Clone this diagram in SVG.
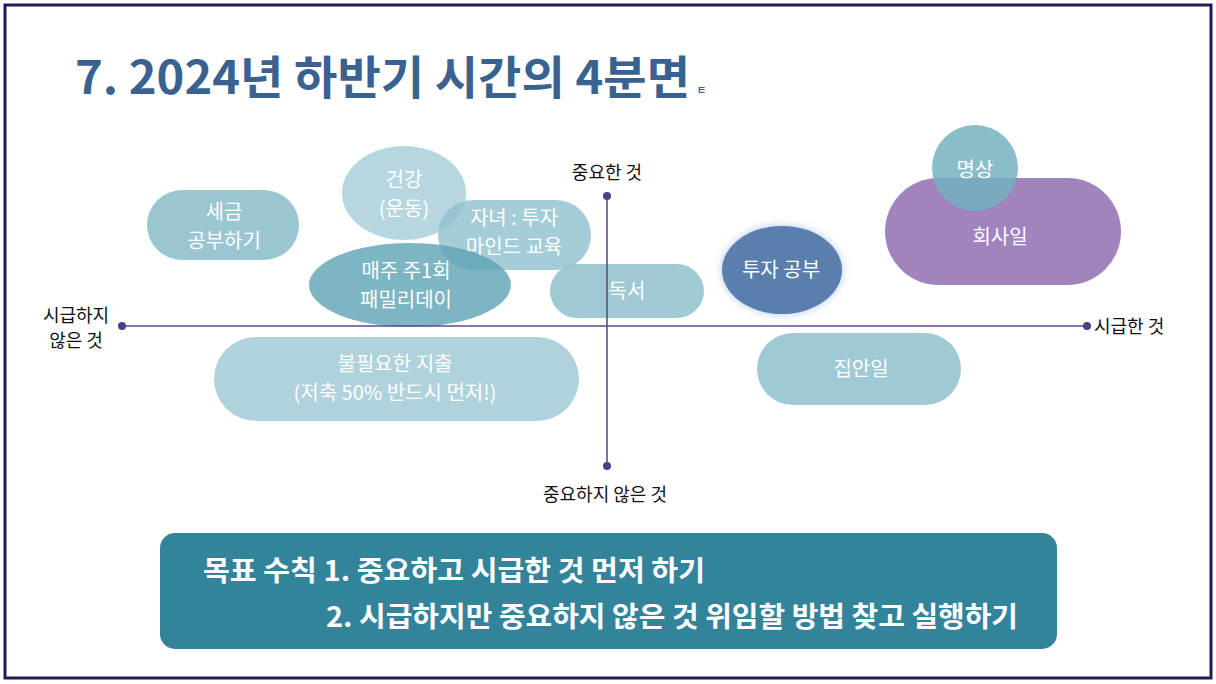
<svg xmlns="http://www.w3.org/2000/svg" width="1216" height="684" viewBox="0 0 1216 684">
<defs>
<style>
.t{font-family:"Noto Sans CJK KR","Noto Sans",sans-serif;}
.nt{font-family:"Noto Sans CJK KR","Noto Sans",sans-serif;font-size:20px;fill:#ffffff;text-anchor:middle;}
.ax{font-family:"Noto Sans CJK KR","Noto Sans",sans-serif;font-size:18px;fill:#111111;}
.axis{stroke:#5c4a8e;stroke-width:1.6;fill:none;}
.dot{fill:#4c3f85;}
</style>
<filter id="glow" x="-30%" y="-30%" width="160%" height="160%">
<feGaussianBlur in="SourceAlpha" stdDeviation="5"/>
<feFlood flood-color="#7fa3d6" flood-opacity="0.6"/>
<feComposite operator="in" in2="SourceAlpha"/>
<feGaussianBlur stdDeviation="4"/>
<feMerge><feMergeNode/><feMergeNode in="SourceGraphic"/></feMerge>
</filter>
</defs>
<rect x="0" y="0" width="1216" height="684" fill="#ffffff"/>
<rect x="5" y="5" width="1206" height="673" fill="#ffffff" stroke="#2a1850" stroke-width="3"/>

<g id="title">
<text class="t" x="75" y="94" font-size="46" font-weight="700" fill="#3a6291" textLength="615" lengthAdjust="spacingAndGlyphs">7. 2024년 하반기 시간의 4분면</text>
<text class="t" x="697" y="94" font-size="10" font-weight="700" fill="#3a6291">ㅌ</text>
</g>

<g id="node-segeum">
<rect x="147" y="190" width="152" height="70" rx="35" fill="#8fc0cd" fill-opacity="0.9"/>
<text class="nt" x="224" y="219">세금</text>
<text class="nt" x="224" y="248">공부하기</text>
</g>
<g id="node-geongang">
<ellipse cx="404" cy="193" rx="62" ry="47" fill="#a9d0da" fill-opacity="0.85"/>
<text class="nt" x="404" y="187">건강</text>
<text class="nt" x="404" y="216">(운동)</text>
</g>
<g id="node-janyeo">
<rect x="438" y="200" width="153" height="70" rx="35" fill="#8fc0cd" fill-opacity="0.8"/>
<text class="nt" x="514" y="225">자녀 : 투자</text>
<text class="nt" x="514" y="254">마인드 교육</text>
</g>
<g id="node-family">
<ellipse cx="410" cy="285" rx="101" ry="42" fill="#5ea2b4" fill-opacity="0.8"/>
<text class="nt" x="406" y="278">매주 주1회</text>
<text class="nt" x="406" y="307">패밀리데이</text>
</g>
<g id="node-dokseo">
<rect x="550" y="264" width="154" height="54" rx="27" fill="#8fc0cd" fill-opacity="0.85"/>
<text class="nt" x="627" y="298">독서</text>
</g>
<g id="node-tuja">
<ellipse cx="782" cy="270" rx="60" ry="44" fill="#5a7fae" filter="url(#glow)"/>
<text class="nt" x="781" y="277">투자 공부</text>
</g>
<g id="node-hoesa">
<rect x="885" y="178" width="236" height="107" rx="53.5" fill="#a183be"/>
<text class="nt" x="1000" y="244">회사일</text>
</g>
<g id="node-myeongsang">
<circle cx="975" cy="168" r="43" fill="#74b1c1" fill-opacity="0.85"/>
<text class="nt" x="975" y="177">명상</text>
</g>
<g id="node-jipanil">
<rect x="757" y="333" width="204" height="72" rx="36" fill="#9fc9d5"/>
<text class="nt" x="861" y="376">집안일</text>
</g>
<g id="node-bulpil">
<rect x="214" y="337" width="365" height="84" rx="42" fill="#afd2dc"/>
<text class="nt" x="395" y="371">불필요한 지출</text>
<text class="nt" x="395" y="400">(저축 50% 반드시 먼저!)</text>
</g>

<g id="connectors">
<line class="axis" x1="122" y1="326" x2="1087" y2="326"/>
<line class="axis" x1="607" y1="196" x2="607" y2="466"/>
<circle class="dot" cx="122" cy="326" r="4"/>
<circle class="dot" cx="1087" cy="326" r="4"/>
<circle class="dot" cx="607" cy="196" r="4"/>
<circle class="dot" cx="607" cy="466" r="4"/>
</g>

<g id="axis-labels">
<text class="ax" x="607" y="179" text-anchor="middle">중요한 것</text>
<text class="ax" x="605" y="501" text-anchor="middle">중요하지 않은 것</text>
<text class="ax" x="76" y="322" text-anchor="middle">시급하지</text>
<text class="ax" x="76" y="347" text-anchor="middle">않은 것</text>
<text class="ax" x="1094" y="333">시급한 것</text>
</g>

<g id="rules">
<rect x="160" y="533" width="897" height="116" rx="15" fill="#33849b"/>
<text class="t" x="203" y="581" font-size="28" font-weight="700" fill="#ffffff" textLength="502" lengthAdjust="spacingAndGlyphs">목표 수칙 1. 중요하고 시급한 것 먼저 하기</text>
<text class="t" x="326" y="627" font-size="28" font-weight="700" fill="#ffffff" textLength="692" lengthAdjust="spacingAndGlyphs">2. 시급하지만 중요하지 않은 것 위임할 방법 찾고 실행하기</text>
</g>
</svg>
